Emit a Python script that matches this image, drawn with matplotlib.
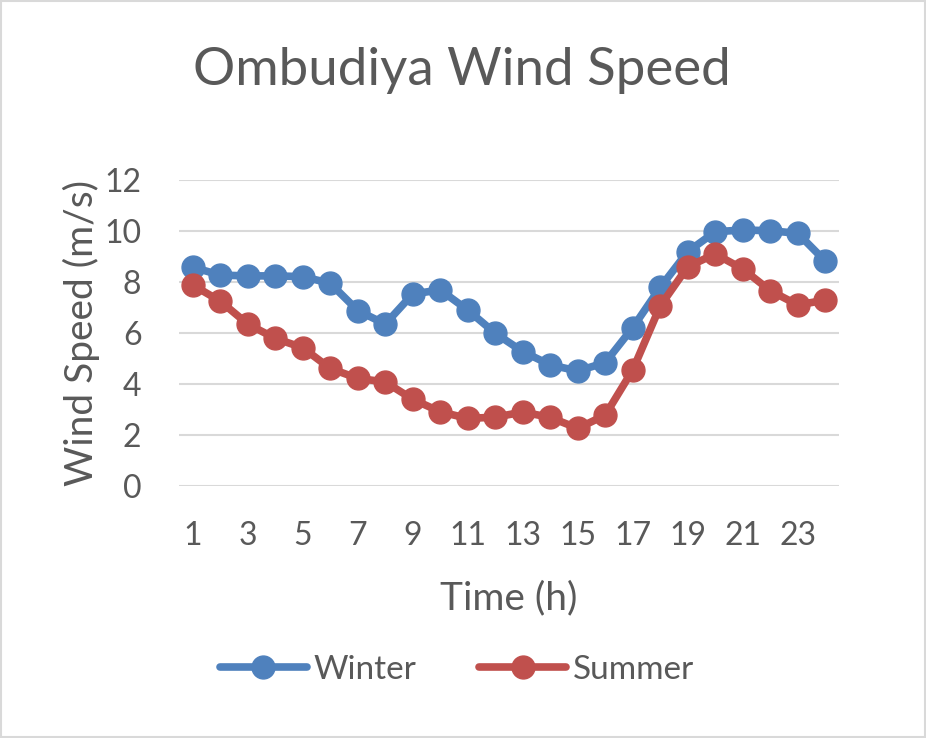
import matplotlib
matplotlib.use("Agg")
import matplotlib.pyplot as plt
from matplotlib.patches import Rectangle

plt.rcParams['font.family'] = ['Lato', 'DejaVu Sans']

# donnees
heures = list(range(1, 25))
hiver = [8.58, 8.27, 8.24, 8.24, 8.21, 7.95, 6.88, 6.35, 7.53, 7.69, 6.90, 5.99,
         5.27, 4.75, 4.51, 4.84, 6.21, 7.79, 9.19, 9.97, 10.04, 10.01, 9.91, 8.82]
ete = [7.88, 7.25, 6.35, 5.79, 5.42, 4.61, 4.22, 4.08, 3.40, 2.91, 2.65, 2.70,
       2.90, 2.69, 2.26, 2.78, 4.55, 7.06, 8.60, 9.10, 8.51, 7.66, 7.10, 7.29]
x_ticks = list(range(1, 25, 2))
y_ticks = [0, 2, 4, 6, 8, 10, 12]

gris = '#595959'
bleu = '#4F81BD'
rouge = '#C0504D'

fig = plt.figure(figsize=(9.26, 7.38), dpi=100)
ax = fig.add_axes([179 / 926, 1 - 486 / 738, 660 / 926, 306 / 738])

ax.plot(heures, hiver, color=bleu, lw=5.5, marker='o', markersize=16.5,
        label='Winter', solid_capstyle='round')
ax.plot(heures, ete, color=rouge, lw=5.5, marker='o', markersize=16.5,
        label='Summer', solid_capstyle='round')

ax.set_xlim(0.5, 24.5)
ax.set_ylim(0, 12)
ax.set_xticks(x_ticks)
ax.set_yticks(y_ticks)
ax.tick_params(length=0, labelsize=23, labelcolor=gris)
ax.tick_params(axis='x', pad=25)
ax.tick_params(axis='y', pad=27)
ax.grid(axis='y', color='#D9D9D9', lw=1.5)
ax.set_axisbelow(True)
for s in ax.spines.values():
    s.set_visible(False)

ax.set_xlabel('Time (h)', fontsize=28, color=gris, labelpad=21)
ax.set_ylabel('Wind Speed (m/s)', fontsize=28, color=gris, labelpad=3)

fig.text(462 / 926, 1 - 70 / 738, 'Ombudiya Wind Speed', fontsize=38,
         color=gris, ha='center', va='center')

fig.legend(loc='center', bbox_to_anchor=(457 / 926, 1 - 670 / 738), ncol=2,
           frameon=False, fontsize=24, labelcolor=gris, handlelength=2.6,
           handletextpad=0.2, columnspacing=1.9)

# cadre autour du graphique
fig.patches.append(Rectangle((0.001, 0.001), 0.998, 0.998, transform=fig.transFigure,
                             fill=False, edgecolor='#D9D9D9', lw=1.5))

fig.savefig('out.png', dpi=100)
